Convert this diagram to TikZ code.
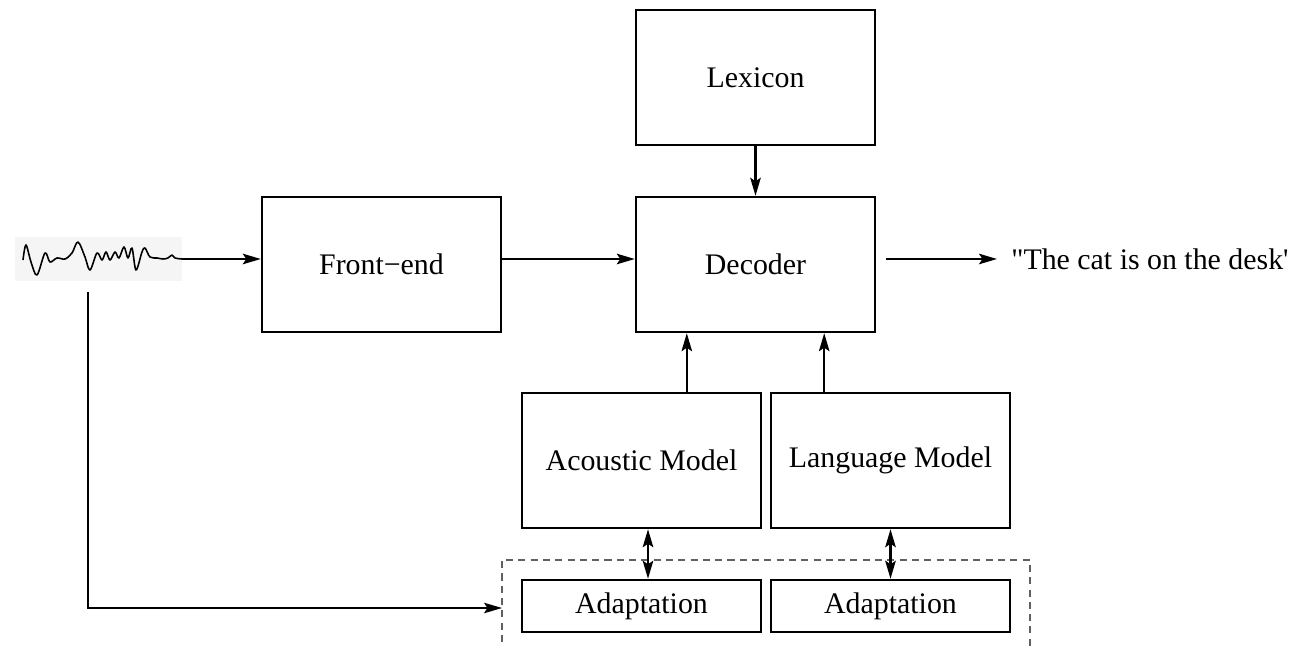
\documentclass[tikz,border=0pt]{standalone}
\usepackage{fontspec}
\setmainfont{Liberation Serif}
\usetikzlibrary{arrows.meta,calc}

\begin{document}
\begin{tikzpicture}[x=0.02cm, y=-0.02cm, >={Stealth[length=3.6mm,width=2.1mm,inset=0.7mm]},
    font=\fontsize{17}{20}\selectfont,
    block/.style={draw, line width=1.4pt, minimum width=4.78cm, minimum height=2.7cm, inner sep=0pt},
    adaptbox/.style={block, minimum height=1.04cm},
    flow/.style={->, line width=1.3pt},
    dblflow/.style={<->, line width=1.3pt},
    thinflow/.style={->, line width=0.7pt},
    dashframe/.style={gray!75!black, line width=0.9pt, dash pattern=on 4pt off 3pt}]
        \def\sigY{259} \def\tapX{88}

        \useasboundingbox (0,0) rectangle (1301,651);

        % speech signal
        \fill[black!4] (15,237) rectangle (182,281);
        \draw[line width=0.9pt, line join=round] plot[smooth, tension=0.55] coordinates {
            (23,260) (26,245) (31,262) (37,275) (45,253) (50,262) (57,258) (65,259) (72,253)
            (78,242) (85,257) (90,270) (97,253) (102,260) (106,252) (110,260) (115,252)
            (119,258) (124,247) (128,258) (132,248) (136,270) (142,252) (145,248) (150,257)
            (157,258) (163,259) (168,258) (172,255) (175,258) (182,259)};
        \coordinate (sig) at (182,\sigY);
        \coordinate (tap) at (\tapX,292);

        \node[block] (lex) at (755.5,77.5) {Lexicon};
        \node[block] (fe) at (381.5,264.5) {Front−end};
        \node[block] (dec) at (755.5,264.5) {Decoder};
        \node[block] (am) at (641.5,460.5) {Acoustic Model};
        \node[block] (lm) at (890.5,460.5) {Language Model};
        \node[adaptbox] (ad1) at (641.5,606) {Adaptation};
        \node[adaptbox] (ad2) at (890.5,606) {Adaptation};
        \node[anchor=west, inner xsep=2.8mm, inner ysep=0pt] (out) at (997,\sigY) {\textquotedbl The cat is on the desk\textquotesingle};

        \draw[dashframe] (502,642) -- (502,560) -- (1030,560) -- (1030,651);
        \coordinate (adin) at (502,608);

        \draw[flow] (sig) -- (sig -| fe.west);
        \draw[flow] (fe.east |- sig) -- (dec.west |- sig);
        \draw[flow] ($(dec.east |- sig)+(10,0)$) -- (out.west);
        \draw[flow] (lex) -- (dec);

        \coordinate (amup) at ($(dec.south west)+(52,0)$);
        \coordinate (lmup) at ($(dec.south east)+(-52,0)$);
        \draw[flow] (am.north -| amup) -- (amup);
        \draw[flow] (lm.north -| lmup) -- (lmup);

        \draw[dblflow] ($(am.south)+(6.5,0)$) -- ($(ad1.north)+(6.5,0)$);
        \draw[dblflow] (lm) -- (ad2);

        \draw[thinflow] (tap) |- (adin);
    \end{tikzpicture}
\end{document}
